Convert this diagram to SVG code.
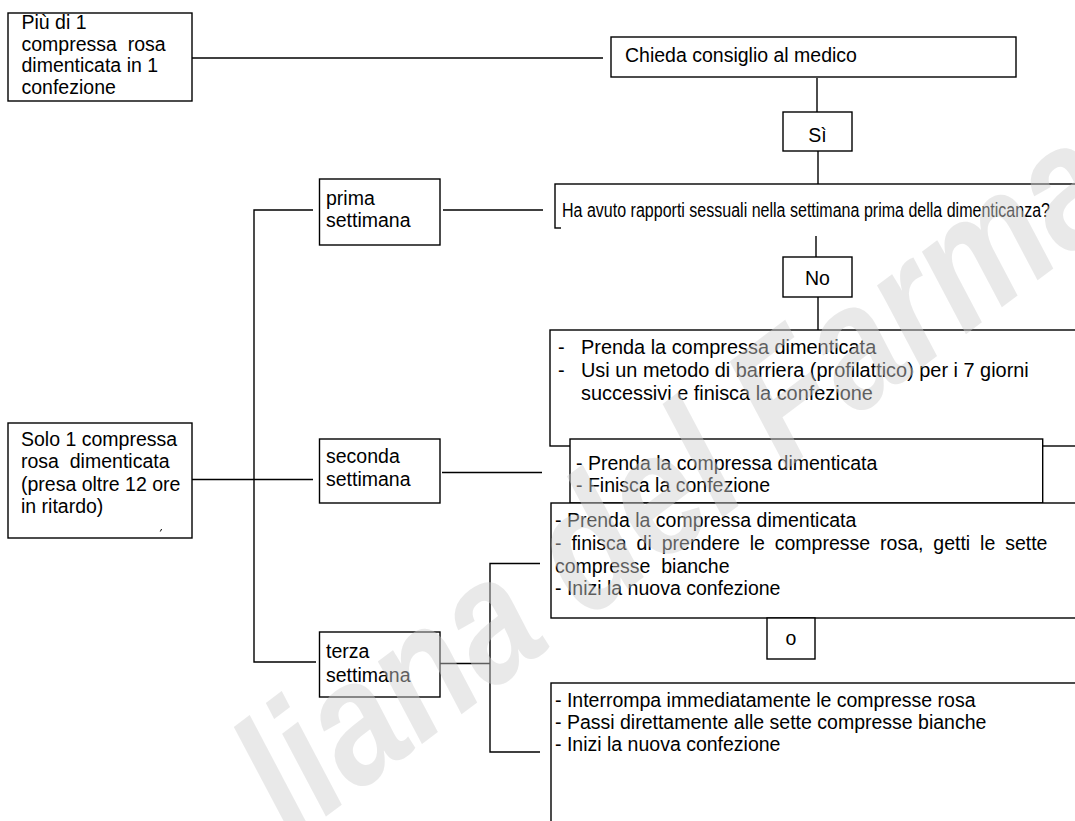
<svg xmlns="http://www.w3.org/2000/svg" width="1075" height="821" viewBox="0 0 1075 821">
<style>
.box{fill:#fff;stroke:#000;stroke-width:1.4}
.ln{stroke:#000;stroke-width:1.4;fill:none}
.t{font-family:"Liberation Sans",Arial,sans-serif;font-size:19.5px;fill:#000}
.c{text-anchor:middle}
.wm{font-family:"Liberation Sans",Arial,sans-serif;font-weight:bold;font-style:italic;font-size:175px;fill:#d0d0d0;opacity:0.45}
</style>
<rect width="1075" height="821" fill="#fff"/>
<g id="connectors" class="ln">
<path d="M192 58 H603"/>
<path d="M817 78 V112"/>
<path d="M818 151 V184"/>
<path d="M816 236 V257"/>
<path d="M818 297 V330"/>
<path d="M443 210 H543"/>
<path d="M442 472.5 H542"/>
<path d="M192 479.5 H313"/>
<path d="M313 210 H254 V662 H316"/>
<path d="M440 663.5 H490"/>
<path d="M540 563.5 H490 V752 H540"/>
</g>
<g id="n-piu">
<rect class="box" x="8" y="13" width="184" height="88"/>
<text class="t" xml:space="preserve"><tspan x="21.5" y="29">Più di 1</tspan><tspan x="21.5" y="50.7">compressa  rosa</tspan><tspan x="21.5" y="72.4">dimenticata in 1</tspan><tspan x="21.5" y="94.1">confezione</tspan></text>
</g>
<g id="n-chieda">
<rect class="box" x="611" y="37" width="405" height="40"/>
<text class="t" x="625" y="62">Chieda consiglio al medico</text>
</g>
<g id="n-si">
<rect class="box" x="783" y="112" width="69" height="39"/>
<text class="t c" x="817.5" y="141.5">Sì</text>
</g>
<g id="n-ha">
<rect class="box" x="555" y="184" width="540" height="44"/>
<rect x="561" y="197" width="530" height="36" fill="#fff"/>
<text class="t" x="562" y="217" textLength="488" lengthAdjust="spacingAndGlyphs">Ha avuto rapporti sessuali nella settimana prima della dimenticanza?</text>
</g>
<g id="n-no">
<rect class="box" x="783" y="257" width="69" height="40"/>
<text class="t c" x="817.5" y="285">No</text>
</g>
<g id="n-prima-azione">
<rect class="box" x="550" y="330" width="545" height="116"/>
<text class="t" style="font-size:19.9px"><tspan x="558" y="353.5">-</tspan><tspan x="581" y="353.5">Prenda la compressa dimenticata</tspan><tspan x="558" y="376.5">-</tspan><tspan x="581" y="376.5">Usi un metodo di barriera (profilattico) per i 7 giorni</tspan><tspan x="581" y="399.5">successivi e finisca la confezione</tspan></text>
</g>
<g id="n-seconda-azione">
<rect class="box" x="570" y="439" width="472.7" height="64"/>
<text class="t"><tspan x="576" y="470">- Prenda la compressa dimenticata</tspan><tspan x="576" y="492">- Finisca la confezione</tspan></text>
</g>
<g id="n-prima">
<rect class="box" x="319.5" y="179" width="120.5" height="66"/>
<text class="t"><tspan x="326" y="205">prima</tspan><tspan x="326" y="227">settimana</tspan></text>
</g>
<g id="n-seconda">
<rect class="box" x="319.5" y="439" width="120.5" height="64"/>
<text class="t"><tspan x="326" y="463">seconda</tspan><tspan x="326" y="486">settimana</tspan></text>
</g>
<g id="n-terza">
<rect class="box" x="319.5" y="632" width="120.5" height="65"/>
<text class="t"><tspan x="326" y="658">terza</tspan><tspan x="326" y="681.5">settimana</tspan></text>
</g>
<g id="n-solo">
<rect class="box" x="8" y="423" width="184" height="115"/>
<text class="t" xml:space="preserve"><tspan x="21" y="445.5">Solo 1 compressa</tspan><tspan x="21" y="468">rosa  dimenticata</tspan><tspan x="21" y="490.5">(presa oltre 12 ore</tspan><tspan x="21" y="513">in ritardo)</tspan></text>
<path d="M160.3 531.5 L161.6 529" stroke="#000" stroke-width="1"/>
</g>
<g id="n-terza-azione-1">
<rect class="box" x="551" y="503" width="540" height="115"/>
<text class="t" xml:space="preserve"><tspan x="555" y="527">- Prenda la compressa dimenticata</tspan><tspan x="555" y="550" word-spacing="4.5">- finisca di prendere le compresse rosa, getti le sette</tspan><tspan x="555" y="572.5">compresse  bianche</tspan><tspan x="555" y="595">- Inizi la nuova confezione</tspan></text>
</g>
<g id="n-o">
<rect class="box" x="767" y="618" width="48" height="41"/>
<text class="t c" x="791" y="645">o</text>
</g>
<g id="n-terza-azione-2">
<rect class="box" x="551" y="683" width="540" height="200"/>
<text class="t"><tspan x="555" y="707">- Interrompa immediatamente le compresse rosa</tspan><tspan x="555" y="729">- Passi direttamente alle sette compresse bianche</tspan><tspan x="555" y="750.5">- Inizi la nuova confezione</tspan></text>
</g>
<text class="wm" transform="translate(292 842) rotate(-37)" textLength="1130" lengthAdjust="spacingAndGlyphs">liana del Farmac</text>
</svg>
